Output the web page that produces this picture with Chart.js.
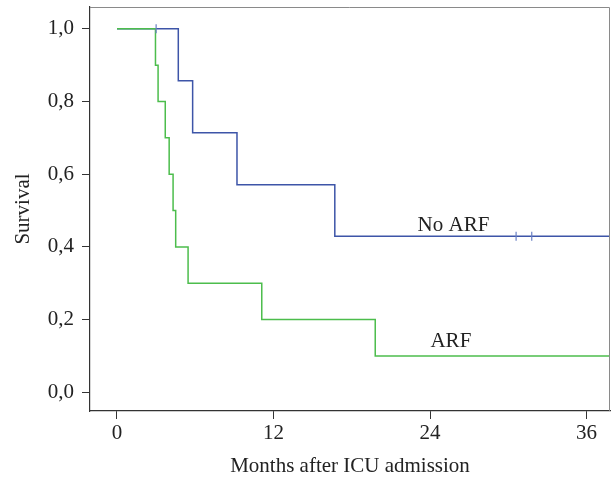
<!DOCTYPE html>
<html>
<head>
<meta charset="utf-8">
<script src="https://cdn.jsdelivr.net/npm/chart.js@4"></script>
<style>
  html, body { margin: 0; padding: 0; background: #fff; }
  #wrap { width: 611px; height: 479px; }
</style>
</head>
<body>
<div id="wrap"><canvas id="kmChart"></canvas></div>
<script>
// Kaplan-Meier steps (months, survival after the event)
const noArfTimes = [0, 4.7, 5.8, 9.2, 16.7];
const noArfSurvival = [1.0, 0.857, 0.714, 0.571, 0.429];
const noArfCensored = [3.0, 30.6, 31.8];

const arfTimes = [0, 2.95, 3.15, 3.7, 4.0, 4.3, 4.5, 5.45, 11.1, 19.8];
const arfSurvival = [1.0, 0.9, 0.8, 0.7, 0.6, 0.5, 0.4, 0.3, 0.2, 0.1];

const followUpEnd = 37.8;
const xTicks = [0, 12, 24, 36];
const yTicks = [0, 0.2, 0.4, 0.6, 0.8, 1.0];

const BLUE = "#3d55a8";
const GREEN = "#4cbd4c";
const FONT = "'Liberation Serif', 'DejaVu Serif', serif";
const FONT_SIZE = 21;

function stepPoints(times, surv) {
  const pts = times.map((t, i) => ({ x: t, y: surv[i] }));
  pts.push({ x: followUpEnd, y: surv[surv.length - 1] });
  return pts;
}

// value of the curve at a given time, used for censor ticks
function survivalAt(times, surv, t) {
  let s = surv[0];
  times.forEach((ti, i) => {
    if (ti <= t) s = surv[i];
  });
  return s;
}

const censorPoints = noArfCensored.map((t) => ({
  x: t,
  y: survivalAt(noArfTimes, noArfSurvival, t),
}));

const boxPlugin = {
  id: "box",
  afterDraw(chart) {
    const { ctx, chartArea: a, scales } = chart;
    ctx.save();
    ctx.strokeStyle = "#8a8a8a";
    ctx.lineWidth = 1;
    ctx.beginPath();
    ctx.moveTo(a.left, a.top + 0.5);
    ctx.lineTo(a.right - 0.5, a.top + 0.5);
    ctx.lineTo(a.right - 0.5, a.bottom);
    ctx.stroke();

    // curve labels
    ctx.fillStyle = "#222";
    ctx.font = FONT_SIZE + "px " + FONT;
    ctx.textAlign = "center";
    ctx.textBaseline = "middle";
    ctx.fillText("No ARF", scales.x.getPixelForValue(25.8), scales.y.getPixelForValue(0.46));
    ctx.fillText("ARF", scales.x.getPixelForValue(25.6), scales.y.getPixelForValue(0.139));
    ctx.restore();
  },
};

Chart.defaults.font.family = FONT;
Chart.defaults.color = "#222";

new Chart(document.getElementById("kmChart"), {
  type: "line",
  data: {
    datasets: [
      {
        label: "No ARF",
        data: stepPoints(noArfTimes, noArfSurvival),
        borderColor: BLUE,
        borderWidth: 1.5,
        stepped: true,
        pointRadius: 0,
        fill: false,
        order: 2,
      },
      {
        label: "ARF",
        data: stepPoints(arfTimes, arfSurvival),
        borderColor: GREEN,
        borderWidth: 1.5,
        stepped: true,
        pointRadius: 0,
        fill: false,
        order: 1,
      },
      {
        label: "Censored",
        type: "scatter",
        data: censorPoints,
        pointStyle: "line",
        rotation: 90,
        pointRadius: 4.5,
        borderColor: "#6a80c4",
        borderWidth: 1.2,
        order: 0,
      },
    ],
  },
  options: {
    responsive: true,
    maintainAspectRatio: false,
    animation: false,
    layout: { autoPadding: false, padding: { top: 7, right: 1, left: 0, bottom: 0 } },
    plugins: {
      legend: { display: false },
      tooltip: { enabled: false },
    },
    scales: {
      x: {
        type: "linear",
        min: -2.07,
        max: followUpEnd,
        afterBuildTicks: (scale) => {
          scale.ticks = xTicks.map((v) => ({ value: v }));
        },
        afterFit: (scale) => {
          scale.height = 68;
          scale.paddingLeft = 0;
          scale.paddingRight = 0;
        },
        grid: {
          drawOnChartArea: false,
          drawTicks: true,
          tickLength: 8,
          color: "#333",
        },
        border: { display: true, color: "#333", width: 1.2 },
        ticks: {
          font: { size: FONT_SIZE },
          padding: 2,
          maxRotation: 0,
          autoSkip: false,
        },
        title: {
          display: true,
          text: "Months after ICU admission",
          font: { size: FONT_SIZE },
          padding: { top: 0, bottom: 0 },
        },
      },
      y: {
        min: -0.0515,
        max: 1.06,
        afterBuildTicks: (scale) => {
          scale.ticks = yTicks.map((v) => ({ value: v }));
        },
        afterFit: (scale) => {
          scale.width = 90;
          scale.paddingTop = 0;
          scale.paddingBottom = 0;
        },
        grid: {
          drawOnChartArea: false,
          drawTicks: true,
          tickLength: 8,
          color: "#333",
        },
        border: { display: true, color: "#333", width: 1.2 },
        ticks: {
          font: { size: FONT_SIZE },
          padding: 8,
          callback: (v) => v.toFixed(1).replace(".", ","),
        },
        title: {
          display: true,
          text: "Survival",
          font: { size: FONT_SIZE },
          padding: { top: 11, bottom: 0 },
        },
      },
    },
  },
  plugins: [boxPlugin],
});
</script>
</body>
</html>
